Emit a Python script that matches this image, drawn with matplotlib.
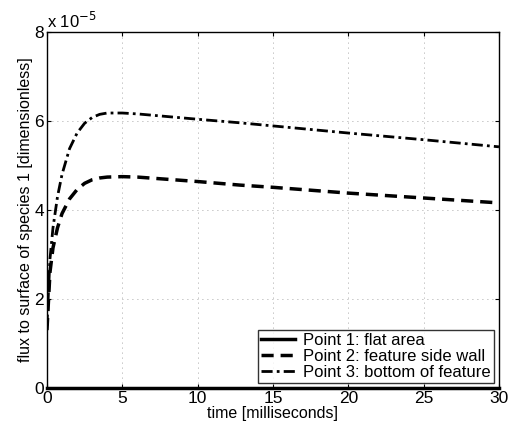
import matplotlib.pyplot as plt
import numpy as np

plt.rcParams['font.family'] = ['Liberation Sans', 'DejaVu Sans']

# time [ms] and flux values (units of 1e-5)
t = [0, 0.2, 0.4, 0.7, 1.0, 1.5, 2.0, 2.5, 3.0, 3.5, 4.0, 5.0, 6.0, 8.0, 10, 12.8, 15, 20, 25, 30]
flux_p1 = [0] * len(t)
flux_p2 = [1.3, 2.6, 3.15, 3.6, 3.92, 4.25, 4.46, 4.6, 4.68, 4.72, 4.74, 4.75, 4.74, 4.69, 4.64, 4.56, 4.51, 4.38, 4.27, 4.16]
flux_p3 = [1.4, 2.9, 3.6, 4.3, 4.8, 5.38, 5.73, 5.95, 6.08, 6.15, 6.18, 6.18, 6.16, 6.1, 6.04, 5.96, 5.89, 5.73, 5.58, 5.42]

labels = ['Point 1: flat area', 'Point 2: feature side wall', 'Point 3: bottom of feature']

fig = plt.figure(figsize=(5.16, 4.33), dpi=100)
ax = fig.add_axes([0.091, 0.104, 0.876, 0.822])

ax.plot(t, flux_p1, color='k', lw=2.5, ls='-', label=labels[0], clip_on=False, zorder=5)
ax.plot(t, flux_p2, color='k', lw=2.5, dashes=[3.5, 2], label=labels[1])
ax.plot(t, flux_p3, color='k', lw=2.0, dashes=[4, 1.5, 1, 1.5], label=labels[2])

ax.set_xlim(0, 30)
ax.set_ylim(0, 8)
ax.set_xticks([0, 5, 10, 15, 20, 25, 30])
ax.set_yticks([0, 2, 4, 6, 8])
ax.tick_params(direction='in', labelsize=12.5, top=True, right=True, length=3, pad=2)
ax.grid(True, ls=(0, (1, 5)), color='0.55', lw=0.6)
for s in ax.spines.values():
    s.set_linewidth(1.0)

ax.set_xlabel('time [milliseconds]', fontsize=11.5, labelpad=0)
ax.set_ylabel('flux to surface of species 1 [dimensionless]', fontsize=11.5, labelpad=1)
ax.text(0.0, 1.003, r'x 10$^{-5}$', transform=ax.transAxes, fontsize=12, va='bottom', ha='left')

leg = ax.legend(loc='lower right', fontsize=12, frameon=True, fancybox=False,
                edgecolor='k', borderaxespad=0.3, handlelength=2.0, labelspacing=0.05,
                borderpad=0.2, handletextpad=0.5)
leg.get_frame().set_linewidth(1.0)

plt.savefig('out.png', dpi=100)
